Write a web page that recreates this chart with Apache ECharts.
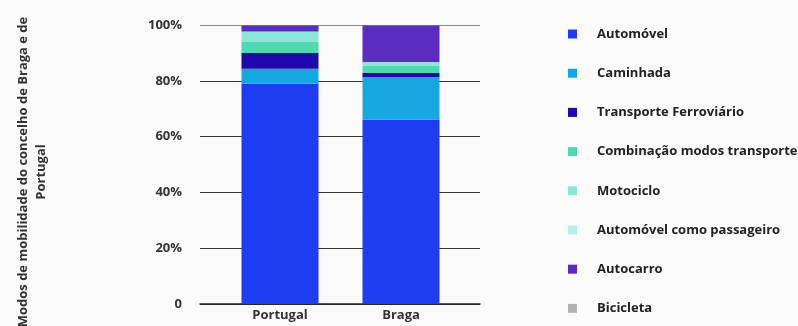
<!DOCTYPE html>
<html>
<head>
<meta charset="utf-8">
<script src="https://cdn.jsdelivr.net/npm/echarts@6/dist/echarts.min.js"></script>
<style>
html,body{margin:0;padding:0;background:#fafafa;}
#main{width:798px;height:326px;}
</style>
</head>
<body>
<div id="main"></div>
<script>
const categories = ['Portugal', 'Braga'];
const seriesNames = ['Automóvel', 'Caminhada', 'Transporte Ferroviário', 'Combinação modos transporte', 'Motociclo', 'Automóvel como passageiro', 'Autocarro', 'Bicicleta'];
const automovel = [78.9, 66.0];
const caminhada = [5.4, 15.4];
const ferroviario = [5.7, 1.4];
const combinacao = [3.9, 2.5];
const motociclo = [3.8, 1.4];
const passageiro = [0, 0];
const autocarro = [2.2, 13.2];
const bicicleta = [0.1, 0.1];
const yTicks = [0, 20, 40, 60, 80, 100];
const yTitle = 'Modos de mobilidade do concelho de Braga e de\nPortugal';

const colors = ['#1e3cf0', '#15a8e0', '#1e0aab', '#50d9b0', '#8ce8d6', '#b3f2e8', '#5a2dc0', '#b3b3b3'];
const values = [automovel, caminhada, ferroviario, combinacao, motociclo, passageiro, autocarro, bicicleta];
const FONT = '"Open Sans", "Noto Sans", sans-serif';

const chart = echarts.init(document.getElementById('main'));
chart.setOption({
  backgroundColor: '#fafafa',
  animation: false,
  color: colors,
  grid: [
    {left: 200, right: 318, top: 25, bottom: 22},
    {left: 219.5, width: 242, top: 25, bottom: 22}
  ],
  xAxis: [
    {gridIndex: 0, type: 'category', data: categories, axisLabel: {show: false}, axisTick: {show: false},
      axisLine: {show: true, lineStyle: {color: '#222', width: 1.5}}},
    {gridIndex: 1, type: 'category', data: categories, axisTick: {show: false}, axisLine: {show: false},
      axisLabel: {color: '#333', fontFamily: FONT, fontWeight: 'bold', fontSize: 13, margin: 5}}
  ],
  yAxis: [
    {gridIndex: 0, type: 'value', min: yTicks[0], max: yTicks[yTicks.length - 1], interval: 20,
      axisLine: {show: false}, axisTick: {show: false},
      axisLabel: {color: '#333', fontFamily: FONT, fontWeight: 'bold', fontSize: 13, margin: 18,
        formatter: v => v === 0 ? '0' : v + '%'},
      splitLine: {show: true, lineStyle: {color: ['#333', '#333', '#333', '#333', '#333', '#888'], width: 1}}},
    {gridIndex: 1, type: 'value', min: 0, max: 100, show: false, splitLine: {show: false}}
  ],
  legend: {
    orient: 'vertical', left: 563, top: 21, itemWidth: 9, itemHeight: 9, itemGap: 23.2,
    icon: 'rect',
    data: seriesNames,
    textStyle: {color: '#222', fontFamily: FONT, fontWeight: 'bold', fontSize: 13, lineHeight: 16, padding: [0, 0, 0, 15]}
  },
  graphic: [{
    type: 'text', rotation: Math.PI / 2,
    x: 32, y: 172,
    style: {text: yTitle, fill: '#333', font: 'bold 13px ' + FONT, textAlign: 'center', textVerticalAlign: 'middle', lineHeight: 18}
  }],
  series: seriesNames.map((name, i) => ({
    name: name, type: 'bar', stack: 'total', xAxisIndex: 1, yAxisIndex: 1,
    barWidth: 77, data: values[i], itemStyle: {color: colors[i]}
  }))
});
</script>
</body>
</html>
